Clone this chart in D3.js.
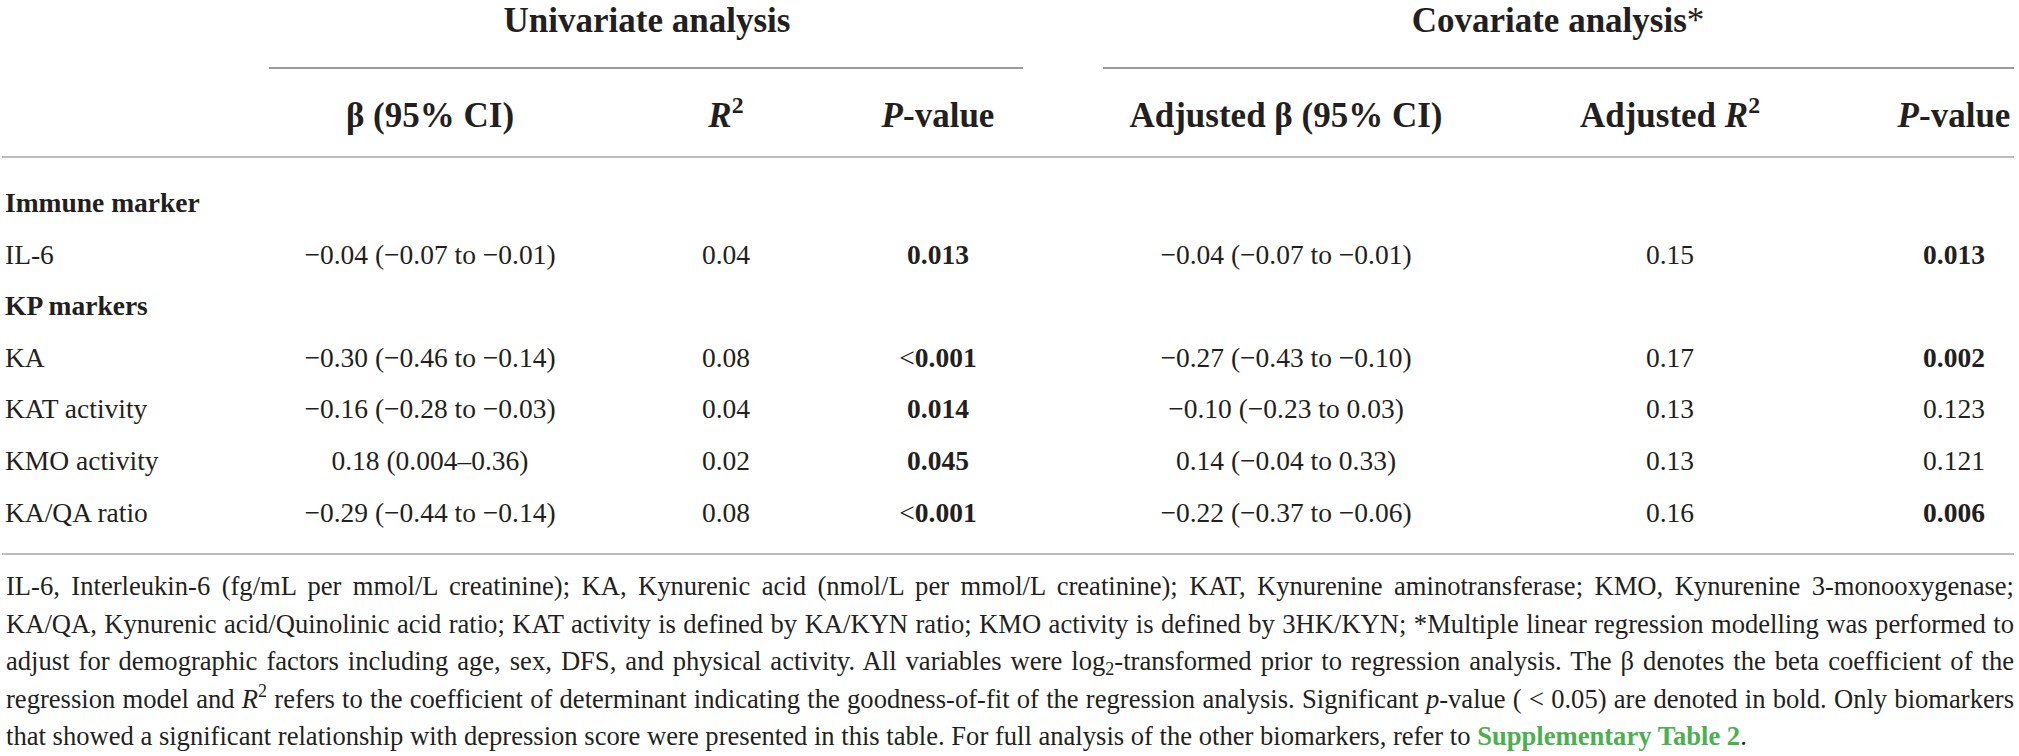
<!DOCTYPE html>
<html><head><meta charset="utf-8">
<script src="https://cdn.jsdelivr.net/npm/d3@7"></script>
<style>
body{margin:0;background:#fff;}
svg{display:block;}
text{font-family:"Liberation Serif","Times New Roman",serif;fill:#231f20;}
</style>
</head><body>
<svg id="chart" width="2019" height="756"></svg>
<script>
// ---------- data ----------
const groupHeaders = ["Univariate analysis", "Covariate analysis*"];
const columnKeys = ["beta", "r2", "p", "adjBeta", "adjR2", "adjP"];
const columnHeaders = [
  "β (95% CI)", "[i]R[/i][sup]2[/sup]", "[i]P[/i]-value",
  "Adjusted β (95% CI)", "Adjusted [i]R[/i][sup]2[/sup]", "[i]P[/i]-value"
];
const rowLabels = ["Immune marker", "IL-6", "KP markers", "KA", "KAT activity", "KMO activity", "KA/QA ratio"];
const isGroupRow = [true, false, true, false, false, false, false];
const betaCI = [null, "−0.04 (−0.07 to −0.01)", null, "−0.30 (−0.46 to −0.14)", "−0.16 (−0.28 to −0.03)", "0.18 (0.004–0.36)", "−0.29 (−0.44 to −0.14)"];
const r2 = [null, "0.04", null, "0.08", "0.04", "0.02", "0.08"];
const pValue = [null, "[b]0.013[/b]", null, "<[b]0.001[/b]", "[b]0.014[/b]", "[b]0.045[/b]", "<[b]0.001[/b]"];
const adjBetaCI = [null, "−0.04 (−0.07 to −0.01)", null, "−0.27 (−0.43 to −0.10)", "−0.10 (−0.23 to 0.03)", "0.14 (−0.04 to 0.33)", "−0.22 (−0.37 to −0.06)"];
const adjR2 = [null, "0.15", null, "0.17", "0.13", "0.13", "0.16"];
const adjPValue = [null, "[b]0.013[/b]", null, "[b]0.002[/b]", "0.123", "0.121", "[b]0.006[/b]"];
const footnoteLines = [
  "IL-6, Interleukin-6 (fg/mL per mmol/L creatinine); KA, Kynurenic acid (nmol/L per mmol/L creatinine); KAT, Kynurenine aminotransferase; KMO, Kynurenine 3-monooxygenase;",
  "KA/QA, Kynurenic acid/Quinolinic acid ratio; KAT activity is defined by KA/KYN ratio; KMO activity is defined by 3HK/KYN; *Multiple linear regression modelling was performed to",
  "adjust for demographic factors including age, sex, DFS, and physical activity. All variables were log[sub]2[/sub]-transformed prior to regression analysis. The β denotes the beta coefficient of the",
  "regression model and [i]R[/i][sup]2[/sup] refers to the coefficient of determinant indicating the goodness-of-fit of the regression analysis. Significant [i]p[/i]-value ( < 0.05) are denoted in bold. Only biomarkers",
  "that showed a significant relationship with depression score were presented in this table. For full analysis of the other biomarkers, refer to [g]Supplementary Table 2[/g]."
];

// ---------- layout ----------
const W = 2019, H = 756;
const left = 5, right = 2014;
const headerFont = 35, bodyFont = 27.5, noteFont = 26.6;
const svg = d3.select("#chart");

const colX = d3.scaleOrdinal().domain(columnKeys).range([430, 726, 938, 1286, 1670, 1954]);
const groupX = d3.scaleOrdinal().domain(groupHeaders).range([647, 1558]);
const groupSpan = d3.scaleOrdinal().domain(groupHeaders).range([[269, 1023], [1103, right]]);
const rowY = d3.scalePoint().domain(d3.range(rowLabels.length)).range([212, 521.5]);
const noteY = d3.scalePoint().domain(d3.range(footnoteLines.length)).range([595, 745]);

// rich-text helper
function rich(sel, str, fs) {
  const re = /\[(i|b|sup|sub|g)\](.*?)\[\/\1\]/g;
  let last = 0, m;
  const parts = [];
  while ((m = re.exec(str)) !== null) {
    if (m.index > last) parts.push({t: str.slice(last, m.index), s: null});
    parts.push({t: m[2], s: m[1]});
    last = re.lastIndex;
  }
  if (last < str.length) parts.push({t: str.slice(last), s: null});
  parts.forEach(p => {
    const ts = sel.append("tspan").text(p.t);
    if (p.s === "i") ts.attr("font-style", "italic");
    if (p.s === "b") ts.attr("font-weight", "bold");
    if (p.s === "g") ts.attr("font-weight", "bold").style("fill", "#4caf50");
    if (p.s === "sup") ts.attr("font-size", fs * 0.68).attr("baseline-shift", fs * 0.4);
    if (p.s === "sub") ts.attr("font-size", fs * 0.68).attr("baseline-shift", -fs * 0.2);
  });
}

// group headers
svg.selectAll("text.group").data(groupHeaders).join("text")
  .attr("class", "group")
  .attr("x", d => groupX(d)).attr("y", 32)
  .attr("text-anchor", "middle").attr("font-weight", "bold").attr("font-size", headerFont)
  .each(function(d) {
    const t = d3.select(this);
    if (d.endsWith("*")) {
      t.append("tspan").text(d.slice(0, -1));
      t.append("tspan").attr("font-weight", "normal").text("*");
    } else t.text(d);
  });

svg.selectAll("line.gline").data(groupHeaders).join("line")
  .attr("class", "gline")
  .attr("x1", d => groupSpan(d)[0]).attr("x2", d => groupSpan(d)[1])
  .attr("y1", 68).attr("y2", 68)
  .attr("stroke", "#7a7a7a").attr("stroke-width", 1.6);

// column headers
svg.selectAll("text.colh").data(columnKeys).join("text")
  .attr("class", "colh")
  .attr("x", d => colX(d)).attr("y", 127)
  .attr("text-anchor", "middle").attr("font-weight", "bold").attr("font-size", headerFont)
  .each(function(d, i) { rich(d3.select(this), columnHeaders[i], headerFont); });

// rules
[157, 554].forEach(y => {
  svg.append("line").attr("x1", 2).attr("x2", right).attr("y1", y).attr("y2", y)
    .attr("stroke", "#bdbdbd").attr("stroke-width", 2.2);
});

// row labels
svg.selectAll("text.rowl").data(rowLabels).join("text")
  .attr("class", "rowl")
  .attr("x", left).attr("y", (d, i) => rowY(i))
  .attr("font-size", bodyFont)
  .attr("font-weight", (d, i) => isGroupRow[i] ? "bold" : "normal")
  .text(d => d);

// cells
const columns = {beta: betaCI, r2: r2, p: pValue, adjBeta: adjBetaCI, adjR2: adjR2, adjP: adjPValue};
columnKeys.forEach(k => {
  const vals = columns[k];
  svg.selectAll("text.cell-" + k).data(vals.map((v, i) => ({v, i})).filter(d => d.v !== null)).join("text")
    .attr("class", "cell-" + k)
    .attr("x", colX(k)).attr("y", d => rowY(d.i))
    .attr("text-anchor", "middle").attr("font-size", bodyFont)
    .each(function(d) { rich(d3.select(this), d.v, bodyFont); });
});

// footnote (justified lines)
footnoteLines.forEach((line, i) => {
  const t = svg.append("text").attr("x", left + 1).attr("y", noteY(i)).attr("font-size", noteFont);
  rich(t, line, noteFont);
  if (i < footnoteLines.length - 1) {
    const natural = t.node().getComputedTextLength();
    const spaces = (line.replace(/\[\/?\w+\]/g, "").match(/ /g) || []).length;
    t.style("word-spacing", ((right - left - 1 - natural) / spaces) + "px");
  }
});
</script>
</body></html>
